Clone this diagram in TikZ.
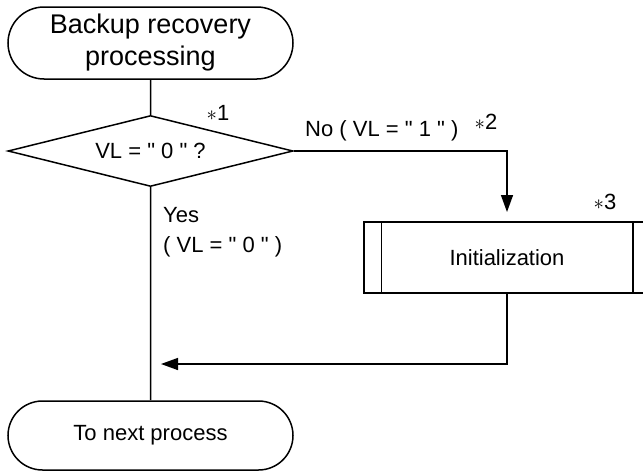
\documentclass[tikz,border=0pt]{standalone}
\usepackage{fontspec}
\setmainfont{Liberation Sans}[Ligatures=TeXOff]
\usetikzlibrary{shapes}
\usetikzlibrary{arrows.meta}
\usetikzlibrary{calc}
\tikzset{line/.style={line width=1.5pt}}
\tikzset{terminal/.style={rounded rectangle, draw, line, minimum width=285pt, inner sep=0pt}}
\tikzset{decision/.style={diamond, draw, line, minimum width=285pt, minimum height=71pt, shape aspect=4, inner sep=0pt}}
\tikzset{subproc/.style={rectangle, draw, line, minimum width=286pt, minimum height=71pt, inner sep=0pt}}
\tikzset{flow/.style={line, -{Triangle[length=17pt,width=12pt]}}}
\tikzset{txt/.style={inner sep=0pt, font=\fontsize{22}{30}\selectfont}}

\begin{document}
\begin{tikzpicture}[x=1pt,y=-1pt]
  \useasboundingbox (0,0) rectangle (643,471);
  \node[terminal, minimum height=72pt, align=center, font=\fontsize{27}{32}\selectfont] (start) at (150.5,43) {Backup recovery\\processing};
  \node[decision, txt] (check) at (150.5,151) {VL = " 0 " ?};
  \node[subproc, txt] (init) at (507,257.5) {Initialization};
  \draw[line] ([xshift=18pt]init.north west) -- ([xshift=18pt]init.south west);
  \draw[line] ([xshift=-18pt]init.north east) -- ([xshift=-18pt]init.south east);
  \node[terminal, minimum height=69pt, txt] (finish) at (150.5,435.5) {To next process};
  \coordinate (drop) at (507,212);
  \coordinate (merge) at (161,364);
  \draw[line] (start) -- (check);
  \draw[flow] (check.east) -| (drop);
  \draw[line] (check) -- (finish);
  \draw[flow] (init.south) |- (merge);
  \node[txt, anchor=west] (nolab) at (305,131) {No ( VL = " 1 " )};
  \node[txt, anchor=west, align=left] (yeslab) at (163,232) {Yes\\( VL = " 0 " )};
  \foreach \x/\y/\lab in {
    218/113/1,
    486/122/2,
    605/202/3%
  } {
    \node[txt] (note\lab) at (\x, \y) {$\ast$\lab};
  }
\end{tikzpicture}
\end{document}
